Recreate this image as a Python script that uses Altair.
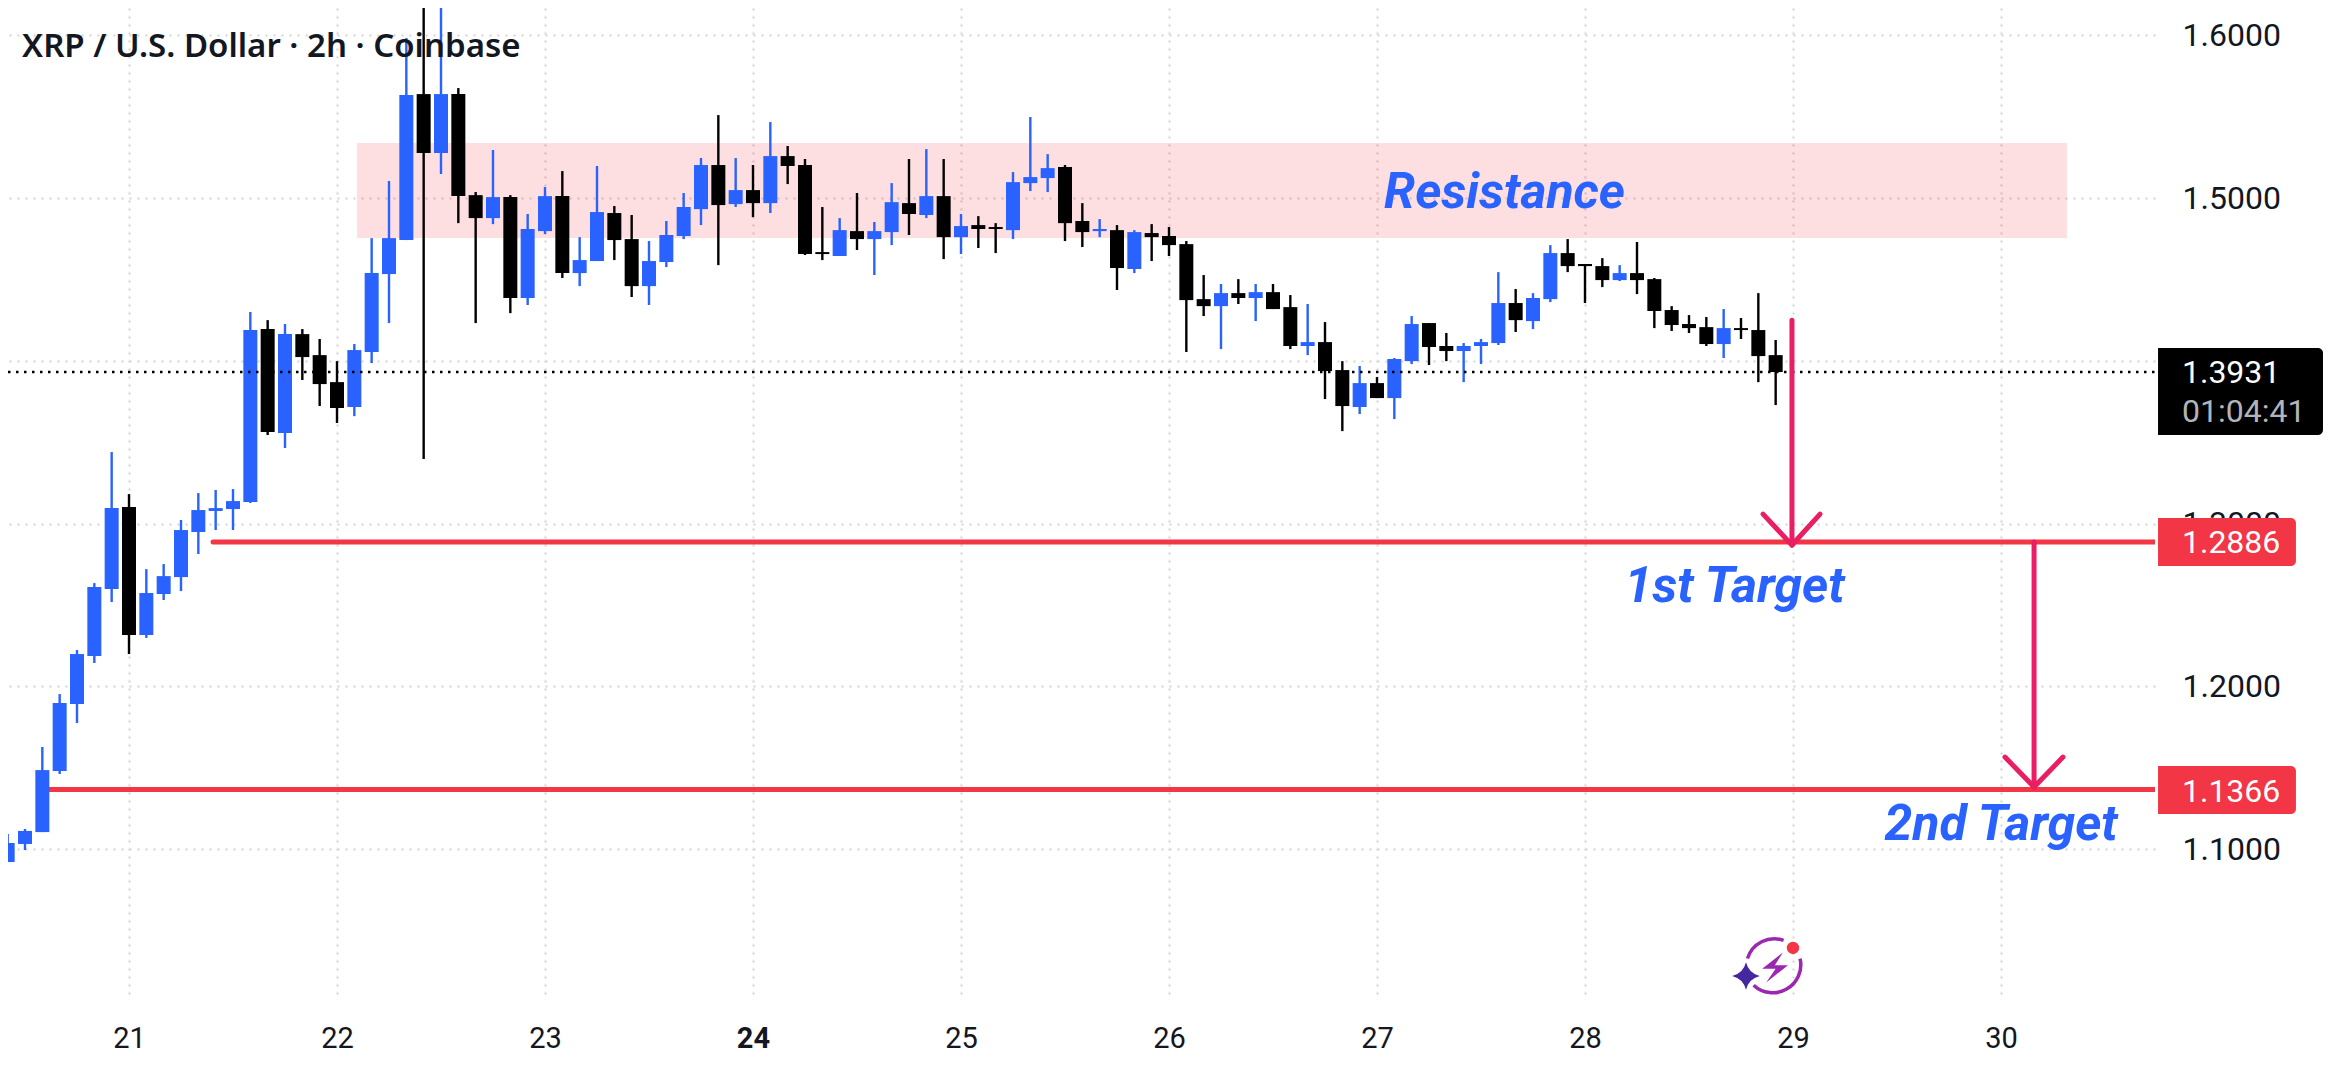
import altair as alt
import pandas as pd

OPEN = [1.0920,1.1031,1.1104,1.1479,1.1891,1.2186,1.2598,
1.3101,1.2315,1.2567,1.2671,1.2948,1.3077,1.3089,1.3132,
1.4195,1.3556,1.4164,1.4035,1.3869,1.3716,1.4054,1.4533,
1.4742,1.5639,1.5277,1.5639,1.5018,1.4877,1.5006,1.4386,
1.4797,1.5012,1.4539,1.4613,1.4908,1.4748,1.4459,1.4607,
1.4767,1.4932,1.5203,1.4963,1.5049,1.4969,1.5258,1.5203,
1.4668,1.4644,1.4797,1.4748,1.4791,1.4969,1.4896,1.5012,
1.4760,1.4834,1.4822,1.4803,1.5092,1.5123,1.5191,1.4859,
1.4797,1.4803,1.4564,1.4785,1.4767,1.4717,1.4379,1.4336,
1.4416,1.4386,1.4422,1.4330,1.4091,1.4115,1.3943,1.3716,
1.3863,1.3771,1.3998,1.4232,1.4091,1.4060,1.4091,1.4109,
1.4355,1.4244,1.4379,1.4662,1.4595,1.4582,1.4496,1.4539,
1.4502,1.4312,1.4226,1.4207,1.4103,1.4201,1.4189,1.4035]
CLOSE = [1.1037,1.1111,1.1485,1.1897,1.2198,1.2610,1.3095,
1.2315,1.2573,1.2677,1.2960,1.3083,1.3095,1.3138,1.4189,
1.3562,1.4164,1.4023,1.3857,1.3710,1.4066,1.4539,1.4754,
1.5633,1.5277,1.5639,1.5012,1.4877,1.5006,1.4386,1.4810,
1.5012,1.4539,1.4619,1.4914,1.4742,1.4459,1.4613,1.4773,
1.4945,1.5203,1.4957,1.5049,1.4969,1.5258,1.5197,1.4656,
1.4656,1.4803,1.4748,1.4797,1.4975,1.4902,1.5012,1.4760,
1.4828,1.4810,1.4810,1.5098,1.5129,1.5184,1.4846,1.4791,
1.4810,1.4570,1.4791,1.4760,1.4711,1.4373,1.4336,1.4416,
1.4386,1.4422,1.4318,1.4091,1.4115,1.3937,1.3722,1.3863,
1.3771,1.4011,1.4226,1.4085,1.4060,1.4091,1.4115,1.4355,
1.4250,1.4386,1.4662,1.4582,1.4582,1.4496,1.4539,1.4496,
1.4306,1.4220,1.4201,1.4103,1.4201,1.4189,1.4029,1.3931]
HIGH = [1.1092,1.1123,1.1627,1.1952,1.2223,1.2634,1.3439,
1.3181,1.2720,1.2751,1.3022,1.3187,1.3206,1.3212,1.4300,
1.4250,1.4226,1.4195,1.4134,1.3998,1.4103,1.4754,1.5105,
1.5983,1.65,1.65,1.5676,1.5037,1.5295,1.5018,1.4902,
1.5068,1.5166,1.4760,1.5197,1.4951,1.4896,1.4736,1.4859,
1.5031,1.5246,1.5510,1.5246,1.5203,1.5467,1.5320,1.5240,
1.4945,1.4877,1.5031,1.4853,1.5092,1.5240,1.5301,1.5240,
1.4902,1.4889,1.4846,1.5160,1.5498,1.5270,1.5203,1.4969,
1.4871,1.4834,1.4803,1.4840,1.4822,1.4736,1.4527,1.4472,
1.4502,1.4472,1.4472,1.4404,1.4349,1.4238,1.3998,1.3968,
1.3900,1.4017,1.4275,1.4232,1.4171,1.4109,1.4134,1.4545,
1.4441,1.4416,1.4711,1.4748,1.4595,1.4631,1.4588,1.4730,
1.4509,1.4336,1.4281,1.4269,1.4318,1.4263,1.4416,1.4128]
LOW = [1.0920,1.0994,1.1104,1.1461,1.1774,1.2143,1.2518,
1.2198,1.2297,1.2530,1.2585,1.2813,1.2960,1.2960,1.3126,
1.3544,1.3464,1.3882,1.3722,1.3618,1.3660,1.3986,1.4232,
1.4742,1.3396,1.5148,1.4846,1.4232,1.4840,1.4293,1.4343,
1.4779,1.4509,1.4459,1.4613,1.4619,1.4392,1.4343,1.4576,
1.4748,1.4834,1.4588,1.4945,1.4883,1.4908,1.5086,1.4650,
1.4619,1.4644,1.4681,1.4527,1.4711,1.4773,1.4877,1.4625,
1.4656,1.4693,1.4662,1.4748,1.5043,1.5037,1.4736,1.4699,
1.4760,1.4435,1.4539,1.4613,1.4644,1.4054,1.4275,1.4072,
1.4349,1.4244,1.4318,1.4072,1.4035,1.3765,1.3568,1.3673,
1.3771,1.3642,1.3980,1.3974,1.3998,1.3869,1.3980,1.4097,
1.4177,1.4195,1.4361,1.4545,1.4355,1.4453,1.4490,1.4410,
1.4201,1.4183,1.4171,1.4091,1.4017,1.4134,1.3869,1.3728]

DAY_TICKS = [21, 22, 23, 24, 25, 26, 27, 28, 29, 30]
PRICE_TICKS = [1.1, 1.2, 1.3, 1.4, 1.5, 1.6]
X_DOMAIN = [20.41827, 30.7404]
Y_DOMAIN = [1.00722, 1.6168]

BLUE = "#2962ff"
BLACK = "#000000"
RED = "#f23645"
PINK = "#e91e63"
INK = "#131722"
FONT = "Roboto"

HOURS = [10 + 2 * i for i in range(len(OPEN))]
candles = pd.DataFrame({
    "day": [20 + h / 24 for h in HOURS],
    "open": OPEN, "close": CLOSE, "high": HIGH, "low": LOW,
})
candles["color"] = [BLUE if c >= o else BLACK for o, c in zip(OPEN, CLOSE)]

xs = alt.Scale(domain=X_DOMAIN, nice=False, zero=False)
ys = alt.Scale(domain=Y_DOMAIN, nice=False, zero=False)
X = lambda f: alt.X(f, type="quantitative", scale=xs, title=None)
Y = lambda f: alt.Y(f, type="quantitative", scale=ys, title=None)
COLOR = alt.Color("color:N", scale=None, legend=None)

# resistance zone carries the axes and grid
zone = pd.DataFrame({"x": [22.096], "x2": [30.317], "y": [1.5338], "y2": [1.4754]})
base = alt.Chart(zone).mark_rect(color=RED, opacity=0.16).encode(
    x=alt.X("x:Q", scale=xs, title=None, axis=alt.Axis(
        values=DAY_TICKS, format="d", grid=True, gridColor="#d4d4d4", gridDash=[2, 6],
        gridWidth=2, domain=False, ticks=False, labelPadding=24, labelFontSize=29,
        labelColor=INK, labelFont=FONT, labelAngle=0,
        labelFontWeight={"condition": {"test": "datum.value == 24", "value": "bold"}, "value": "normal"},
    )),
    x2="x2:Q",
    y=alt.Y("y:Q", scale=ys, title=None, axis=alt.Axis(
        orient="right", values=PRICE_TICKS, grid=True, gridColor="#d4d4d4",
        labelExpr="abs(datum.value - 1.4) < 0.001 ? '' : format(datum.value, '.4f')",
        gridDash=[2, 6], gridWidth=2, domain=False, ticks=False, labelPadding=27,
        labelFontSize=32, labelColor=INK, labelFont=FONT,
    )),
    y2="y2:Q",
)

# target lines under the candles
level_df = pd.DataFrame({
    "x": [21.404, 20.58], "x2": [30.7404, 30.7404], "y": [1.2886, 1.1366],
})
levels = alt.Chart(level_df).mark_rule(color=RED, strokeWidth=5, strokeCap="round", clip=True).encode(
    x=X("x"), x2="x2:Q", y=Y("y"))

wicks = alt.Chart(candles).mark_rule(strokeWidth=2.4, clip=True).encode(
    x=X("day"), y=Y("high"), y2="low:Q", color=COLOR)
bodies = alt.Chart(candles).mark_rule(strokeWidth=14, clip=True).encode(
    x=X("day"), y=Y("open"), y2="close:Q", color=COLOR)

last_df = pd.DataFrame({"x": [X_DOMAIN[0]], "x2": [X_DOMAIN[1]], "y": [1.3931]})
last_line = alt.Chart(last_df).mark_rule(color=BLACK, strokeWidth=2.4, strokeDash=[2.5, 5.5]).encode(
    x=X("x"), x2="x2:Q", y=Y("y"))

# arrows
arrow_df = pd.DataFrame({
    "x":  [28.995, 28.856, 29.130, 30.159, 30.019, 30.298],
    "x2": [28.995, 28.995, 28.995, 30.159, 30.159, 30.159],
    "y":  [1.4250, 1.3058, 1.3058, 1.2886, 1.1565, 1.1565],
    "y2": [1.2868, 1.2868, 1.2868, 1.1381, 1.1381, 1.1381],
})
arrows = alt.Chart(arrow_df).mark_rule(color=PINK, strokeWidth=5, strokeCap="round").encode(
    x=X("x"), x2="x2:Q", y=Y("y"), y2="y2:Q")

# price tags on the right
tag_df = pd.DataFrame({
    "x": [30.755, 30.755, 30.755], "x2": [31.548, 31.418, 31.418],
    "y": [1.4078, 1.3034, 1.1510], "y2": [1.3544, 1.2739, 1.1215],
    "color": [BLACK, RED, RED],
})
tags = alt.Chart(tag_df).mark_rect(clip=False, cornerRadiusTopRight=5, cornerRadiusBottomRight=5).encode(
    x=X("x"), x2="x2:Q", y=Y("y"), y2="y2:Q", color=COLOR)

tag_text_df = pd.DataFrame({
    "x": [30.870] * 4, "y": [1.3863, 1.3624, 1.2819, 1.1289],
    "t": ["1.3931", "01:04:41", "1.2886", "1.1366"],
    "color": ["#ffffff", "#b2b5b8", "#ffffff", "#ffffff"],
})
tag_text = alt.Chart(tag_text_df).mark_text(
    align="left", baseline="alphabetic", font=FONT, fontSize=32, clip=False
).encode(x=X("x"), y=Y("y"), text="t:N", color=COLOR)

label_df = pd.DataFrame({
    "x": [27.034, 28.19, 29.44], "y": [1.4939, 1.2518, 1.1055],
    "t": ["Resistance", "1st Target", "2nd Target"],
})
labels = alt.Chart(label_df).mark_text(
    align="left", baseline="alphabetic", font=FONT, fontSize=50, fontWeight="bold",
    fontStyle="italic", color=BLUE
).encode(x=X("x"), y=Y("y"), text="t:N")

title_df = pd.DataFrame({"x": [20.486], "y": [1.5866], "t": ["XRP / U.S. Dollar \u00b7 2h \u00b7 Coinbase"]})
title = alt.Chart(title_df).mark_text(
    align="left", baseline="alphabetic", font="Noto Sans", fontSize=33, fontWeight=600, color=INK
).encode(x=X("x"), y=Y("y"), text="t:N")

# logo
STAR = "M0,-1 Q0.2,-0.2 1,0 Q0.2,0.2 0,1 Q-0.2,0.2 -1,0 Q-0.2,-0.2 0,-1 Z"
BOLT = "M0.55,-1 L-0.88,0.12 L0.05,0.12 L-0.6,1.07 L0.9,-0.12 L0,-0.12 Z"
RING = "M-0.98,-0.3 A1,1 0 0 1 0.31,-0.95 M0.9,-0.3 A1,1 0 0 1 -0.76,0.65"
logo_x = [28.774, 28.913, 28.913, 29.0]
logo_y = [1.0220, 1.0275, 1.0275, 1.0392]
logo_shape = [STAR, RING, BOLT, "circle"]
logo_size = [760, 3136, 841, 154]
logo_color = ["#4527a0", "#9c27b0", "#9c27b0", RED]
logo_filled = [True, False, True, True]
logo_layers = []
for lx, ly, sh, sz, co, fi in zip(logo_x, logo_y, logo_shape, logo_size, logo_color, logo_filled):
    d = pd.DataFrame({"x": [lx], "y": [ly]})
    logo_layers.append(alt.Chart(d).mark_point(
        shape=sh, size=sz, filled=fi, color=co, opacity=1,
        strokeWidth=0 if fi else 3.5).encode(x=X("x"), y=Y("y")))

chart = alt.layer(
    base, levels, wicks, bodies, last_line, arrows, tags, tag_text, labels, title, *logo_layers
).properties(
    width=2147, height=992, background="white",
    autosize=alt.AutoSizeParams(type="none"),
    padding={"left": 0, "top": 0, "right": 174, "bottom": 70},
).configure_view(stroke=None)

chart.save("out.html", embed_options={"renderer": "svg", "actions": False})
